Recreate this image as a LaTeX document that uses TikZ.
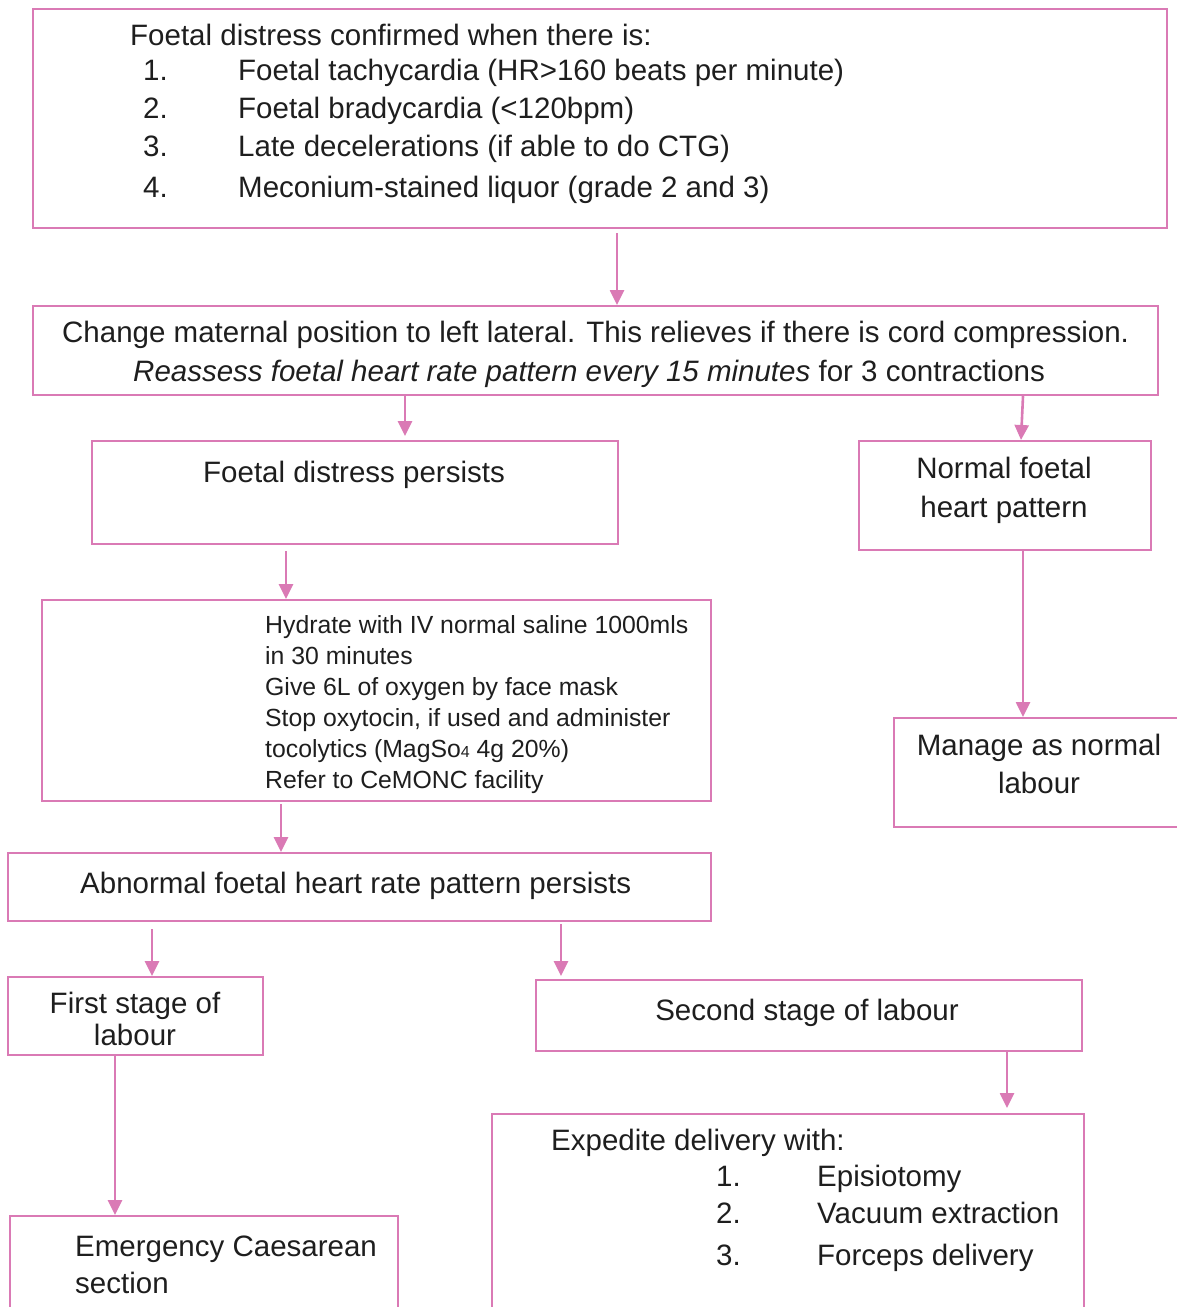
\documentclass[tikz,border=0pt]{standalone}
\usepackage{fontspec}
\setmainfont{Liberation Sans}
\usetikzlibrary{arrows.meta}
\definecolor{flowpink}{RGB}{218,122,181}
\definecolor{inktext}{RGB}{30,30,30}
\tikzset{
  box/.style={draw=flowpink, line width=2.2pt, rectangle, anchor=north west, inner sep=0pt},
  arr/.style={draw=flowpink, line width=2.6pt, -{Triangle[length=15pt,width=14pt]}},
  txt/.style={anchor=base west, inner sep=0pt, text=inktext, font=\fontsize{29.5}{36}\selectfont},
  ctxt/.style={anchor=base, inner sep=0pt, text=inktext, align=center, font=\fontsize{29.5}{38}\selectfont},
  small/.style={anchor=base west, inner sep=0pt, text=inktext, font=\fontsize{24.8}{31}\selectfont},
}
\begin{document}
\begin{tikzpicture}[x=1pt,y=-1pt]
\useasboundingbox (0,0) rectangle (1177,1307);
\clip (0,0) rectangle (1177,1307);

% boxes
\node[box, minimum width=1134, minimum height=219] (top) at (32,8) {};
\node[box, minimum width=1125, minimum height=89] (chg) at (32,305) {};
\node[box, minimum width=526, minimum height=103] (persist) at (91,440) {};
\node[box, minimum width=292, minimum height=109] (normal) at (858,440) {};
\node[box, minimum width=669, minimum height=201] (hydrate) at (41,599) {};
\node[box, minimum width=310, minimum height=109] (manage) at (893,717) {};
\node[box, minimum width=703, minimum height=68] (abn) at (7,852) {};
\node[box, minimum width=255, minimum height=78] (first) at (7,976) {};
\node[box, minimum width=546, minimum height=71] (second) at (535,979) {};
\node[box, minimum width=592, minimum height=230] (exped) at (491,1113) {};
\node[box, minimum width=388, minimum height=130] (emerg) at (9,1215) {};

% top box text
\node[txt] (t0) at (130,45) {Foetal distress confirmed when there is:};
\node[txt] (n1) at (143,80) {1.};
\node[txt] (n2) at (143,118) {2.};
\node[txt] (n3) at (143,156) {3.};
\node[txt] (n4) at (143,197) {4.};
\node[txt] (i1) at (238,80) {Foetal tachycardia (HR>160 beats per minute)};
\node[txt] (i2) at (238,118) {Foetal bradycardia (<120bpm)};
\node[txt] (i3) at (238,156) {Late decelerations (if able to do CTG)};
\node[txt] (i4) at (238,197) {Meconium-stained liquor (grade 2 and 3)};

% position change
\node[txt] (c1) at (62,342) {Change maternal position to left lateral. This relieves if there is cord compression.};
\node[txt] (c2) at (133,381) {\itshape Reassess foetal heart rate pattern every 15 minutes\upshape{} for 3 contractions};

\node[ctxt] (p1) at (354,482) {Foetal distress persists};
\node[ctxt, font=\fontsize{29.5}{39}\selectfont] (nm) at (1004,517) {Normal foetal\\heart pattern};

% resuscitation steps
\node[small] (h1) at (265,633) {Hydrate with IV normal saline 1000mls};
\node[small] (h2) at (265,664) {in 30 minutes};
\node[small] (h3) at (265,695) {Give 6L of oxygen by face mask};
\node[small] (h4) at (265,726) {Stop oxytocin, if used and administer};
\node[small] (h5) at (265,757) {tocolytics (MagSo{\fontsize{16}{16}\selectfont 4} 4g 20\%)};
\node[small] (h6) at (265,788) {Refer to CeMONC facility};

\node[ctxt, font=\fontsize{29.5}{38}\selectfont] (mg) at (1039,793) {Manage as normal\\labour};
\node[txt] (ab) at (80,893) {Abnormal foetal heart rate pattern persists};
\node[ctxt, font=\fontsize{29.5}{32}\selectfont] (fs) at (135,1045) {First stage of\\labour};
\node[ctxt] (ss) at (807,1020) {Second stage of labour};

% delivery options
\node[txt] (e0) at (551,1150) {Expedite delivery with:};
\node[txt] (m1) at (716,1186) {1.};
\node[txt] (m2) at (716,1223) {2.};
\node[txt] (m3) at (716,1265) {3.};
\node[txt] (d1) at (817,1186) {Episiotomy};
\node[txt] (d2) at (817,1223) {Vacuum extraction};
\node[txt] (d3) at (817,1265) {Forceps delivery};

\node[txt] (em1) at (75,1256) {Emergency Caesarean};
\node[txt] (em2) at (75,1293) {section};

% connectors
\draw[arr] ([yshift=-4pt]617,0 |- top.south) -- (617,0 |- chg.north);
\draw[arr] (405,0 |- chg.south) -- ([yshift=4pt]405,0 |- persist.north);
\draw[arr] (1023,0 |- chg.south) -- (1021,0 |- normal.north);
\draw[arr] ([yshift=-6pt]286,0 |- persist.south) -- (286,0 |- hydrate.north);
\draw[arr] (1023,0 |- normal.south) -- (1023,0 |- manage.north);
\draw[arr] ([yshift=-2pt]281,0 |- hydrate.south) -- (281,0 |- abn.north);
\draw[arr] ([yshift=-7pt]152,0 |- abn.south) -- (152,0 |- first.north);
\draw[arr] ([yshift=-2pt]561,0 |- abn.south) -- ([yshift=3pt]561,0 |- second.north);
\draw[arr] (1007,0 |- second.south) -- ([yshift=5pt]1007,0 |- exped.north);
\draw[arr] (115,0 |- first.south) -- (115,0 |- emerg.north);
\end{tikzpicture}
\end{document}
